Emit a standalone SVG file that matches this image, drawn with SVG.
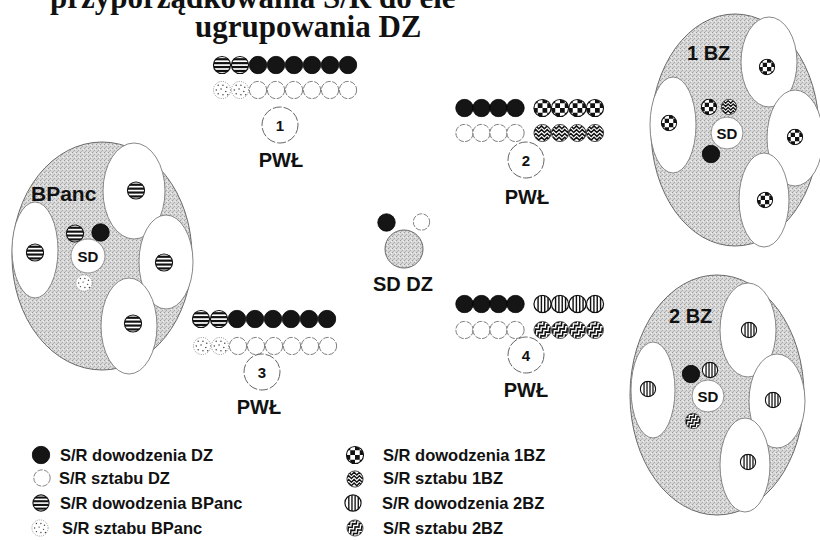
<svg xmlns="http://www.w3.org/2000/svg" xmlns:xlink="http://www.w3.org/1999/xlink" width="820" height="540" viewBox="0 0 820 540">
<style>
.t{font-family:"Liberation Sans",Arial,sans-serif;font-weight:bold;fill:#111}
.ttl{font-family:"Liberation Serif","Times New Roman",serif;font-weight:bold;font-size:31px;fill:#111}
.pwl{font-size:20px;text-anchor:middle}
.num{font-size:15px;text-anchor:middle}
.lg{font-size:16.5px}
.zone{fill:url(#stip);stroke:#6a6a6a;stroke-width:1}
.wz{fill:#fff;stroke:#7a7a7a;stroke-width:0.9}
.nc{fill:#fff;stroke:#666;stroke-width:1;stroke-dasharray:9 2}
.sd{fill:#fff;stroke:#777;stroke-width:0.8}
</style>
<defs>
<pattern id="stip" width="4" height="4" patternUnits="userSpaceOnUse">
<rect width="4" height="4" fill="#d6d6d6"/>
<rect x="0" y="0" width="1" height="1" fill="#9c9c9c"/>
<rect x="2" y="2" width="1" height="1" fill="#a8a8a8"/>
<rect x="3" y="1" width="1" height="1" fill="#efefef"/>
<rect x="1" y="3" width="1" height="1" fill="#b4b4b4"/>
<rect x="2" y="0" width="1" height="1" fill="#e6e6e6"/>
</pattern>
<clipPath id="cc"><circle r="9"/></clipPath>
<symbol id="blk" viewBox="-10 -10 20 20"><circle r="9.2" fill="#151515" stroke="#000" stroke-width="0.8"/></symbol>
<symbol id="wht" viewBox="-10 -10 20 20"><circle r="9.1" fill="#fff" stroke="#555" stroke-width="0.8" stroke-dasharray="6 1.5"/></symbol>
<symbol id="hs" viewBox="-10 -10 20 20"><g clip-path="url(#cc)"><rect x="-10" y="-10" width="20" height="20" fill="#fff"/><rect x="-10" y="-7.2" width="20" height="2.3" fill="#111"/><rect x="-10" y="-3.1" width="20" height="2.3" fill="#111"/><rect x="-10" y="1" width="20" height="2.3" fill="#111"/><rect x="-10" y="5.1" width="20" height="2.3" fill="#111"/></g><circle r="9" fill="none" stroke="#111" stroke-width="1.2"/></symbol>
<symbol id="dot" viewBox="-10 -10 20 20"><circle r="9" fill="#fff" stroke="#777" stroke-width="0.9" stroke-dasharray="1 1.4"/><g fill="#444"><circle cx="-4" cy="-5" r="0.8"/><circle cx="1" cy="-5" r="0.8"/><circle cx="5" cy="-3" r="0.8"/><circle cx="-6" cy="0" r="0.8"/><circle cx="-1" cy="-1" r="0.8"/><circle cx="4" cy="1.5" r="0.8"/><circle cx="-4" cy="4" r="0.8"/><circle cx="1" cy="5" r="0.8"/><circle cx="6" cy="5" r="0.8"/></g></symbol>
<symbol id="chk" viewBox="-10 -10 20 20"><g clip-path="url(#cc)"><rect x="-10" y="-10" width="20" height="20" fill="#fff"/><g fill="#111"><rect x="-10" y="-10" width="5" height="5"/><rect x="0" y="-10" width="5" height="5"/><rect x="-5" y="-5" width="5" height="5"/><rect x="5" y="-5" width="5" height="5"/><rect x="-10" y="0" width="5" height="5"/><rect x="0" y="0" width="5" height="5"/><rect x="-5" y="5" width="5" height="5"/><rect x="5" y="5" width="5" height="5"/></g></g><circle r="9" fill="none" stroke="#111" stroke-width="1.2"/></symbol>
<symbol id="wav" viewBox="-10 -10 20 20"><g clip-path="url(#cc)"><rect x="-10" y="-10" width="20" height="20" fill="#fff"/><g fill="none" stroke="#111" stroke-width="1.6"><polyline points="-10,-4.5 -7,-7.5 -4,-4.5 -1,-7.5 2,-4.5 5,-7.5 8,-4.5 11,-7.5"/><polyline points="-10,-0.5 -7,-3.5 -4,-0.5 -1,-3.5 2,-0.5 5,-3.5 8,-0.5 11,-3.5"/><polyline points="-10,3.5 -7,0.5 -4,3.5 -1,0.5 2,3.5 5,0.5 8,3.5 11,0.5"/><polyline points="-10,7.5 -7,4.5 -4,7.5 -1,4.5 2,7.5 5,4.5 8,7.5 11,4.5"/></g></g><circle r="9" fill="none" stroke="#222" stroke-width="0.9"/></symbol>
<symbol id="vs" viewBox="-10 -10 20 20"><circle r="9" fill="#fff"/><g clip-path="url(#cc)" fill="#111"><rect x="-5.4" y="-10" width="1.5" height="20"/><rect x="-1.9" y="-10" width="1.5" height="20"/><rect x="1.6" y="-10" width="1.5" height="20"/><rect x="5.1" y="-10" width="1.5" height="20"/></g><circle r="9" fill="none" stroke="#111" stroke-width="1.3"/></symbol>
<symbol id="bw" viewBox="-10 -10 20 20"><g clip-path="url(#cc)"><rect x="-10" y="-10" width="20" height="20" fill="#fff"/><g transform="rotate(-40)" fill="none" stroke="#111" stroke-width="1.7"><polyline points="-14,-7 -11,-10 -8,-7 -5,-10 -2,-7 1,-10 4,-7 7,-10 10,-7 13,-10"/><polyline points="-14,-2.5 -11,-5.5 -8,-2.5 -5,-5.5 -2,-2.5 1,-5.5 4,-2.5 7,-5.5 10,-2.5 13,-5.5"/><polyline points="-14,2 -11,-1 -8,2 -5,-1 -2,2 1,-1 4,2 7,-1 10,2 13,-1"/><polyline points="-14,6.5 -11,3.5 -8,6.5 -5,3.5 -2,6.5 1,3.5 4,6.5 7,3.5 10,6.5 13,3.5"/><polyline points="-14,11 -11,8 -8,11 -5,8 -2,11 1,8 4,11 7,8 10,11 13,8"/></g></g><circle r="9" fill="none" stroke="#333" stroke-width="0.8"/></symbol>
</defs>
<rect width="820" height="540" fill="#fff"/>

<g id="title">
<text class="ttl" x="50" y="8">przyporządkowania S/R do ele</text>
<text class="ttl" x="195" y="37">ugrupowania DZ</text>
</g>

<g id="pwl1">
<use href="#hs" x="212.5" y="55.5" width="19" height="19"/>
<use href="#hs" x="230.5" y="55.5" width="19" height="19"/>
<use href="#blk" x="248.5" y="55.5" width="19" height="19"/>
<use href="#blk" x="266.5" y="55.5" width="19" height="19"/>
<use href="#blk" x="284.5" y="55.5" width="19" height="19"/>
<use href="#blk" x="302.5" y="55.5" width="19" height="19"/>
<use href="#blk" x="320.5" y="55.5" width="19" height="19"/>
<use href="#blk" x="338.5" y="55.5" width="19" height="19"/>
<use href="#dot" x="212.5" y="80.5" width="19" height="19"/>
<use href="#dot" x="230.5" y="80.5" width="19" height="19"/>
<use href="#wht" x="248.5" y="80.5" width="19" height="19"/>
<use href="#wht" x="266.5" y="80.5" width="19" height="19"/>
<use href="#wht" x="284.5" y="80.5" width="19" height="19"/>
<use href="#wht" x="302.5" y="80.5" width="19" height="19"/>
<use href="#wht" x="320.5" y="80.5" width="19" height="19"/>
<use href="#wht" x="338.5" y="80.5" width="19" height="19"/>
<circle class="nc" cx="280" cy="125" r="18"/>
<text class="t num" x="280" y="130.5">1</text>
<text class="t pwl" x="281" y="167">PWŁ</text>
</g>

<g id="pwl2">
<use href="#blk" x="455" y="98.5" width="19" height="19"/>
<use href="#blk" x="472" y="98.5" width="19" height="19"/>
<use href="#blk" x="489" y="98.5" width="19" height="19"/>
<use href="#blk" x="506" y="98.5" width="19" height="19"/>
<use href="#chk" x="533" y="98.5" width="19" height="19"/>
<use href="#chk" x="550.5" y="98.5" width="19" height="19"/>
<use href="#chk" x="568" y="98.5" width="19" height="19"/>
<use href="#chk" x="585.5" y="98.5" width="19" height="19"/>
<use href="#wht" x="455" y="123.5" width="19" height="19"/>
<use href="#wht" x="472" y="123.5" width="19" height="19"/>
<use href="#wht" x="489" y="123.5" width="19" height="19"/>
<use href="#wht" x="506" y="123.5" width="19" height="19"/>
<use href="#wav" x="533" y="123.5" width="19" height="19"/>
<use href="#wav" x="550.5" y="123.5" width="19" height="19"/>
<use href="#wav" x="568" y="123.5" width="19" height="19"/>
<use href="#wav" x="585.5" y="123.5" width="19" height="19"/>
<circle class="nc" cx="526" cy="160" r="18"/>
<text class="t num" x="526" y="165.5">2</text>
<text class="t pwl" x="527" y="204">PWŁ</text>
</g>

<g id="pwl3">
<use href="#hs" x="191.5" y="309.5" width="19" height="19"/>
<use href="#hs" x="209.5" y="309.5" width="19" height="19"/>
<use href="#blk" x="227.5" y="309.5" width="19" height="19"/>
<use href="#blk" x="245.5" y="309.5" width="19" height="19"/>
<use href="#blk" x="263.5" y="309.5" width="19" height="19"/>
<use href="#blk" x="281.5" y="309.5" width="19" height="19"/>
<use href="#blk" x="299.5" y="309.5" width="19" height="19"/>
<use href="#blk" x="317.5" y="309.5" width="19" height="19"/>
<use href="#dot" x="192.5" y="336.5" width="19" height="19"/>
<use href="#dot" x="210.5" y="336.5" width="19" height="19"/>
<use href="#wht" x="228.5" y="336.5" width="19" height="19"/>
<use href="#wht" x="246.5" y="336.5" width="19" height="19"/>
<use href="#wht" x="264.5" y="336.5" width="19" height="19"/>
<use href="#wht" x="282.5" y="336.5" width="19" height="19"/>
<use href="#wht" x="300.5" y="336.5" width="19" height="19"/>
<use href="#wht" x="318.5" y="336.5" width="19" height="19"/>
<circle class="nc" cx="262" cy="372" r="18" fill-opacity="0"/>
<text class="t num" x="262" y="377.5">3</text>
<text class="t pwl" x="259" y="414">PWŁ</text>
</g>

<g id="pwl4">
<use href="#blk" x="455" y="294.5" width="19" height="19"/>
<use href="#blk" x="472" y="294.5" width="19" height="19"/>
<use href="#blk" x="489" y="294.5" width="19" height="19"/>
<use href="#blk" x="506" y="294.5" width="19" height="19"/>
<use href="#vs" x="533" y="294.5" width="19" height="19"/>
<use href="#vs" x="550.5" y="294.5" width="19" height="19"/>
<use href="#vs" x="568" y="294.5" width="19" height="19"/>
<use href="#vs" x="585.5" y="294.5" width="19" height="19"/>
<use href="#wht" x="455" y="320.5" width="19" height="19"/>
<use href="#wht" x="472" y="320.5" width="19" height="19"/>
<use href="#wht" x="489" y="320.5" width="19" height="19"/>
<use href="#wht" x="506" y="320.5" width="19" height="19"/>
<use href="#bw" x="533" y="320.5" width="19" height="19"/>
<use href="#bw" x="550.5" y="320.5" width="19" height="19"/>
<use href="#bw" x="568" y="320.5" width="19" height="19"/>
<use href="#bw" x="585.5" y="320.5" width="19" height="19"/>
<circle class="nc" cx="526" cy="355" r="18" fill-opacity="0"/>
<text class="t num" x="526" y="360.5">4</text>
<text class="t pwl" x="526" y="397">PWŁ</text>
</g>

<g id="sd-dz">
<use href="#blk" x="377" y="213" width="19" height="19"/>
<use href="#wht" x="412.5" y="213" width="18" height="18"/>
<circle cx="404" cy="249" r="19" fill="url(#stip)" stroke="#666" stroke-width="1"/>
<text class="t" x="403" y="291" font-size="20" text-anchor="middle">SD DZ</text>
</g>

<g id="bpanc">
<ellipse class="zone" cx="102" cy="256" rx="90" ry="114"/>
<ellipse class="wz" cx="35" cy="250" rx="23" ry="48"/>
<ellipse class="wz" cx="134" cy="191" rx="31" ry="48"/>
<ellipse class="wz" cx="166" cy="262" rx="27" ry="47"/>
<ellipse class="wz" cx="129" cy="326" rx="28" ry="48"/>
<use href="#hs" x="126.5" y="181" width="19" height="19"/>
<use href="#hs" x="25.5" y="243" width="19" height="19"/>
<use href="#hs" x="154.5" y="253" width="19" height="19"/>
<use href="#hs" x="123.5" y="314" width="19" height="19"/>
<use href="#hs" x="65.5" y="224" width="19" height="19"/>
<use href="#blk" x="91" y="223" width="19" height="19"/>
<circle class="sd" cx="88" cy="256" r="17"/>
<text class="t" x="88" y="261.5" font-size="15" text-anchor="middle">SD</text>
<use href="#dot" x="75" y="274" width="18" height="18"/>
<text class="t" x="31" y="201" font-size="21">BPanc</text>
</g>

<g id="bz1">
<ellipse class="zone" cx="735" cy="130" rx="84" ry="116"/>
<ellipse class="wz" cx="673" cy="125" rx="23" ry="48"/>
<ellipse class="wz" cx="769" cy="62" rx="28" ry="45"/>
<ellipse class="wz" cx="795" cy="138" rx="28" ry="48"/>
<ellipse class="wz" cx="764" cy="200" rx="25" ry="47"/>
<use href="#chk" x="758.5" y="58.5" width="17" height="17"/>
<use href="#chk" x="660.5" y="114.5" width="17" height="17"/>
<use href="#chk" x="786.5" y="128.5" width="17" height="17"/>
<use href="#chk" x="756.5" y="191.5" width="17" height="17"/>
<use href="#chk" x="700.5" y="98.5" width="17" height="17"/>
<use href="#wav" x="720.5" y="98.5" width="17" height="17"/>
<circle class="sd" cx="727" cy="133" r="16"/>
<text class="t" x="727" y="138.5" font-size="15" text-anchor="middle">SD</text>
<use href="#blk" x="701.5" y="144.5" width="19" height="19"/>
<text class="t" x="687" y="60" font-size="20">1 BZ</text>
</g>

<g id="bz2">
<ellipse class="zone" cx="717" cy="395" rx="87" ry="120"/>
<ellipse class="wz" cx="653" cy="390" rx="22" ry="48"/>
<ellipse class="wz" cx="748" cy="330" rx="28" ry="47"/>
<ellipse class="wz" cx="777" cy="401" rx="28" ry="47"/>
<ellipse class="wz" cx="745" cy="465" rx="25" ry="47"/>
<use href="#vs" x="740.5" y="321.5" width="17" height="17"/>
<use href="#vs" x="639.5" y="380.5" width="17" height="17"/>
<use href="#vs" x="764.5" y="391.5" width="17" height="17"/>
<use href="#vs" x="739.5" y="453.5" width="17" height="17"/>
<use href="#blk" x="681.5" y="364.5" width="19" height="19"/>
<use href="#vs" x="701.5" y="361.5" width="17" height="17"/>
<circle class="sd" cx="708" cy="396" r="16"/>
<text class="t" x="708" y="401.5" font-size="15" text-anchor="middle">SD</text>
<use href="#bw" x="684.5" y="412.5" width="17" height="17"/>
<text class="t" x="669" y="323" font-size="20">2 BZ</text>
</g>

<g id="legend">
<use href="#blk" x="31.5" y="445.5" width="19" height="19"/>
<text class="t lg" x="60" y="461">S/R dowodzenia DZ</text>
<use href="#wht" x="33" y="469" width="18" height="18"/>
<text class="t lg" x="59" y="484">S/R sztabu DZ</text>
<use href="#hs" x="32" y="494" width="18" height="18"/>
<text class="t lg" x="60" y="509">S/R dowodzenia BPanc</text>
<use href="#dot" x="31" y="519" width="18" height="18"/>
<text class="t lg" x="62" y="534">S/R sztabu BPanc</text>
<use href="#chk" x="345.5" y="445.5" width="19" height="19"/>
<text class="t lg" x="383" y="461">S/R dowodzenia 1BZ</text>
<use href="#wav" x="346" y="470" width="18" height="18"/>
<text class="t lg" x="383" y="484">S/R sztabu 1BZ</text>
<use href="#vs" x="344" y="494" width="18" height="18"/>
<text class="t lg" x="382" y="509">S/R dowodzenia 2BZ</text>
<use href="#bw" x="346" y="519" width="18" height="18"/>
<text class="t lg" x="383" y="534">S/R sztabu 2BZ</text>
</g>
</svg>
